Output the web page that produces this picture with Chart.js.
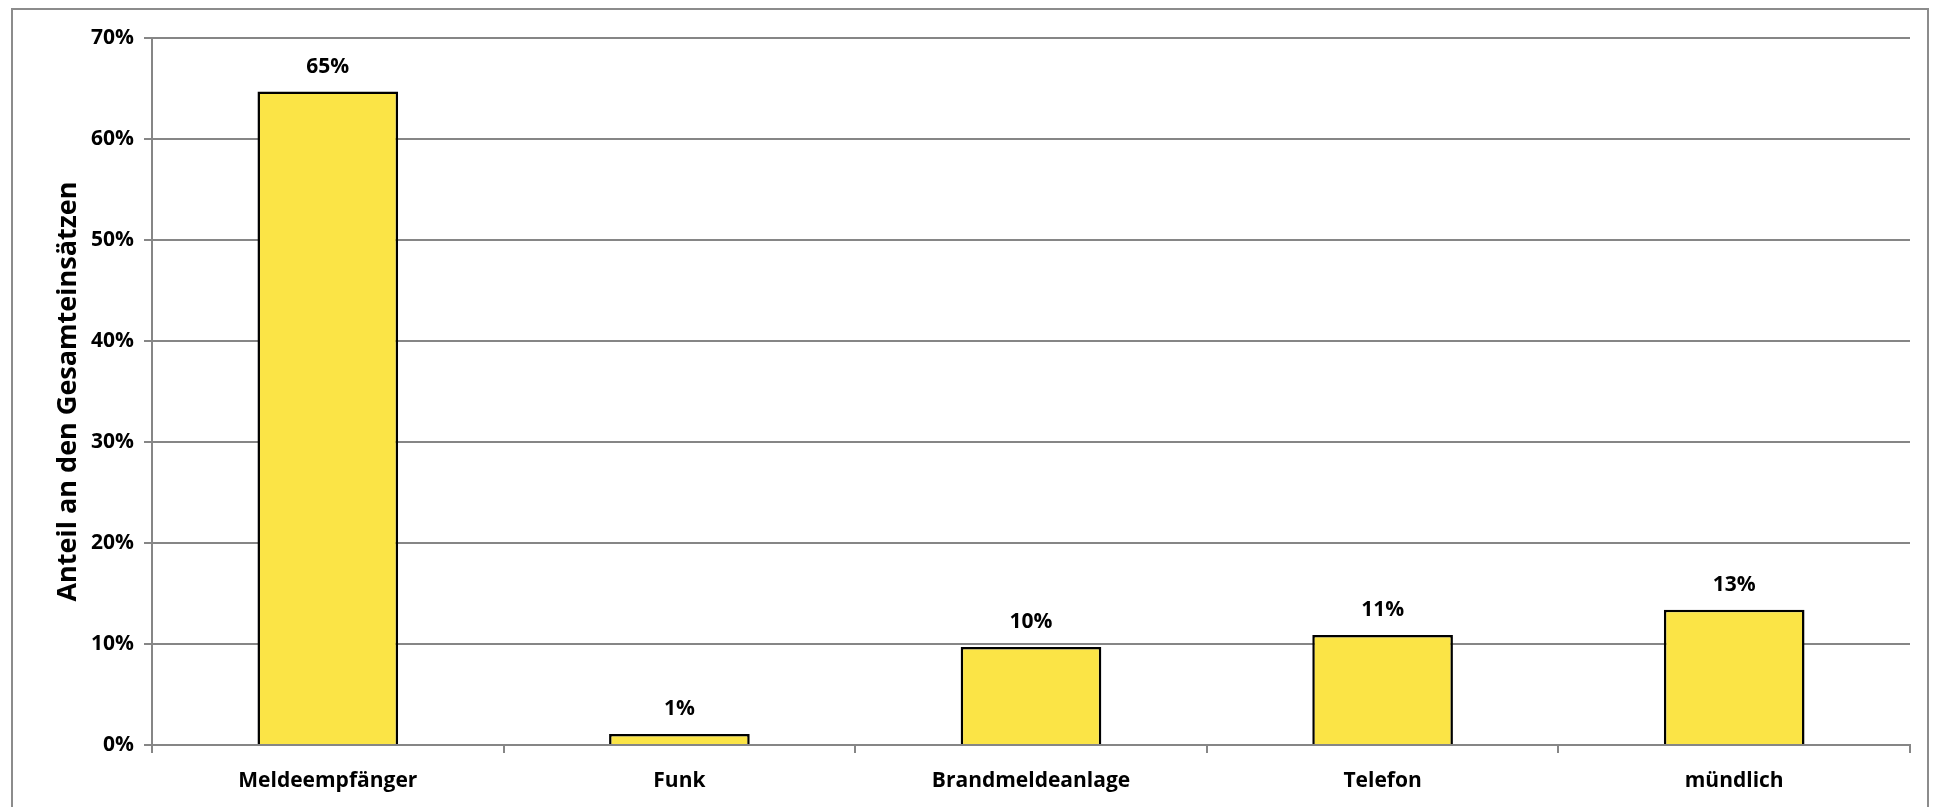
<!DOCTYPE html>
<html>
<head>
<meta charset="utf-8">
<script src="https://cdn.jsdelivr.net/npm/chart.js@4"></script>
<style>
  body { margin: 0; background: #fff; }
  #frame { position: absolute; left: 11px; top: 8px; width: 1914px; height: 830px; border: 2px solid #8c8c8c; }
  #wrap { position: absolute; left: 0; top: 0; width: 1941px; height: 807px; }
</style>
</head>
<body>
<div id="frame"></div>
<div id="wrap"><canvas id="einsatz-chart"></canvas></div>
<script>
// Kategorien der Alarmierung
const CATEGORIES = ["Meldeempfänger", "Funk", "Brandmeldeanlage", "Telefon", "mündlich"];
// Anteil in Prozent
const SHARE_VALUES = [64.7, 1.1, 9.7, 10.9, 13.4];
// Beschriftung über den Balken
const BAR_LABELS = ["65%", "1%", "10%", "11%", "13%"];
// Achsenbeschriftung
const Y_TITLE = "Anteil an den Gesamteinsätzen";

const FONT = "'Open Sans', Lato, sans-serif";

// Draws the percentage text above every bar
const barLabelPlugin = {
  id: "barLabels",
  afterDatasetsDraw(chart) {
    let ctx = chart.ctx;
    let meta = chart.getDatasetMeta(0);
    ctx.save();
    ctx.font = "bold 21px " + FONT;
    ctx.fillStyle = "#000";
    ctx.textAlign = "center";
    ctx.textBaseline = "middle";
    meta.data.forEach((bar, i) => {
      ctx.fillText(BAR_LABELS[i], bar.x, bar.y - 25);
    });
    ctx.restore();
  }
};

let ctx = document.getElementById("einsatz-chart").getContext("2d");
let chart = new Chart(ctx, {
  type: "bar",
  data: {
    labels: CATEGORIES,
    datasets: [{
      data: SHARE_VALUES,
      backgroundColor: "#fbe446",
      borderColor: "#000",
      borderWidth: 2.5,
      categoryPercentage: 0.4,
      barPercentage: 1.0
    }]
  },
  options: {
    responsive: true,
    maintainAspectRatio: false,
    animation: false,
    layout: { padding: { left: 41, top: 38, right: 31, bottom: 0 } },
    plugins: {
      legend: { display: false },
      tooltip: { enabled: false }
    },
    scales: {
      x: {
        afterFit: (scale) => { scale.height = 62; },
        grid: { offset: true, drawOnChartArea: false, drawTicks: true, tickLength: 8, color: "#868686", lineWidth: 2 },
        border: { color: "#868686", width: 2 },
        ticks: { color: "#000", padding: 15, font: { family: FONT, size: 21, weight: "bold" } }
      },
      y: {
        min: 0,
        max: 70,
        afterFit: (scale) => { scale.width = 111; },
        grid: { color: "#868686", lineWidth: 2, tickLength: 8 },
        border: { color: "#868686", width: 2 },
        ticks: {
          stepSize: 10,
          color: "#000",
          padding: 10,
          font: { family: FONT, size: 21, weight: "bold" },
          callback: (v) => v + "%"
        },
        title: {
          display: true,
          text: Y_TITLE,
          color: "#000",
          padding: { top: 11, bottom: 0 },
          font: { family: FONT, size: 27, weight: "bold" }
        }
      }
    }
  },
  plugins: [barLabelPlugin]
});
</script>
</body>
</html>
